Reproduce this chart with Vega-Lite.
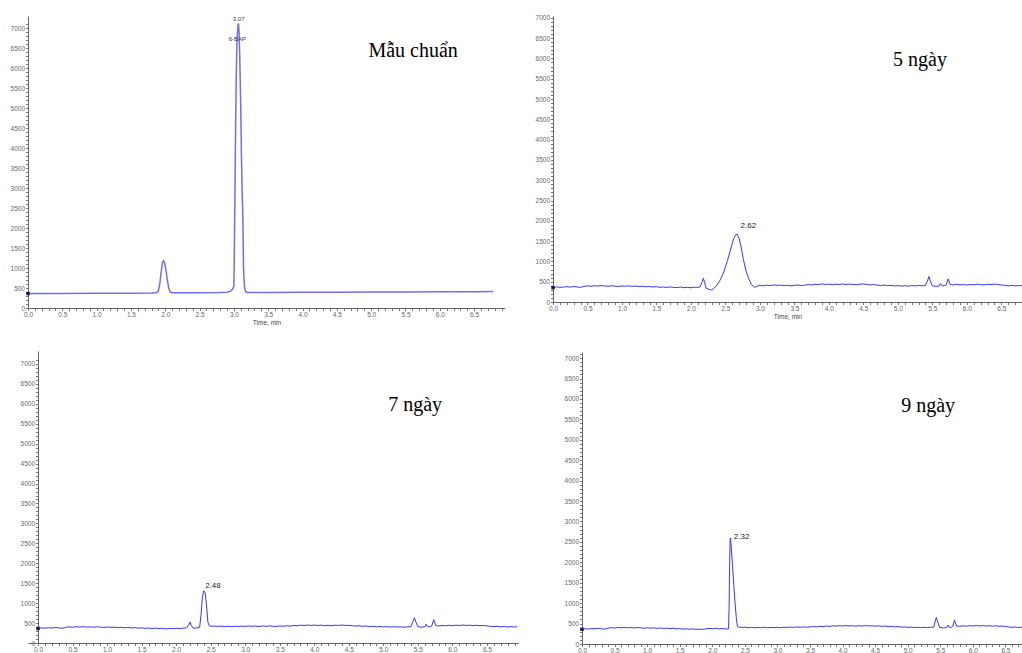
{
  "$schema": "https://vega.github.io/schema/vega-lite/v6.json",
  "background": "white",
  "padding": {"left": 10, "top": 14, "right": 0, "bottom": 0},
  "columns": 2,
  "align": "none",
  "bounds": "full",
  "spacing": {"row": 25, "column": 15},
  "config": {
    "view": {"stroke": null},
    "axis": {
      "grid": false,
      "tickCount": 500,
      "labelFont": "Liberation Sans",
      "labelFontSize": 6.5,
      "labelColor": "#666",
      "labelPadding": 1,
      "labelOverlap": false,
      "labelFlush": false,
      "domainColor": "#666",
      "tickColor": "#777",
      "tickSize": 2.5,
      "titleFont": "Liberation Sans",
      "titleFontSize": 6.5,
      "titleFontWeight": "normal",
      "titleColor": "#444",
      "titlePadding": 1
    }
  },
  "datasets": {
    "p1": [
      {"t":0,"s":362},{"t":0.5,"s":364},{"t":1.0,"s":367},{"t":1.5,"s":370},{"t":1.8,"s":373},{"t":1.87,"s":380},{"t":1.9,"s":430},{"t":1.92,"s":600},{"t":1.94,"s":900},{"t":1.96,"s":1150},{"t":1.975,"s":1180},{"t":1.99,"s":1120},{"t":2.01,"s":950},{"t":2.03,"s":700},{"t":2.05,"s":500},{"t":2.07,"s":410},{"t":2.1,"s":382},{"t":2.5,"s":382},{"t":2.8,"s":385},{"t":2.9,"s":395},{"t":2.95,"s":420},{"t":2.98,"s":470},{"t":3.0,"s":540},{"t":3.005,"s":1200},{"t":3.015,"s":2800},{"t":3.025,"s":4500},{"t":3.035,"s":5900},{"t":3.045,"s":6700},{"t":3.06,"s":7080},{"t":3.067,"s":7110},{"t":3.075,"s":6900},{"t":3.085,"s":6300},{"t":3.1,"s":5000},{"t":3.11,"s":3800},{"t":3.12,"s":2900},{"t":3.128,"s":2450},{"t":3.135,"s":1700},{"t":3.14,"s":1050},{"t":3.145,"s":800},{"t":3.155,"s":520},{"t":3.17,"s":410},{"t":3.2,"s":390},{"t":3.5,"s":390},{"t":4.0,"s":393},{"t":4.5,"s":396},{"t":5.0,"s":398},{"t":5.5,"s":401},{"t":6.0,"s":404},{"t":6.5,"s":408},{"t":6.78,"s":410}
    ],
    "p2": [
      {"t":0.00,"s":355},{"t":0.05,"s":372},{"t":0.10,"s":360},{"t":0.15,"s":368},{"t":0.20,"s":378},{"t":0.25,"s":365},{"t":0.30,"s":382},{"t":0.35,"s":370},{"t":0.40,"s":360},{"t":0.45,"s":385},{"t":0.50,"s":398},{"t":0.55,"s":388},{"t":0.60,"s":402},{"t":0.65,"s":392},{"t":0.70,"s":405},{"t":0.75,"s":395},{"t":0.80,"s":388},{"t":0.85,"s":400},{"t":0.90,"s":392},{"t":0.95,"s":380},{"t":1.00,"s":395},{"t":1.05,"s":388},{"t":1.10,"s":398},{"t":1.15,"s":385},{"t":1.20,"s":392},{"t":1.25,"s":380},{"t":1.30,"s":388},{"t":1.35,"s":375},{"t":1.40,"s":382},{"t":1.45,"s":368},{"t":1.50,"s":378},{"t":1.55,"s":362},{"t":1.60,"s":370},{"t":1.65,"s":358},{"t":1.70,"s":372},{"t":1.75,"s":360},{"t":1.80,"s":355},{"t":1.85,"s":368},{"t":1.90,"s":352},{"t":1.95,"s":362},{"t":2.00,"s":350},{"t":2.05,"s":365},{"t":2.10,"s":358},{"t":2.13,"s":370},{"t":2.16,"s":480},{"t":2.18,"s":585},{"t":2.20,"s":470},{"t":2.22,"s":340},{"t":2.25,"s":320},{"t":2.28,"s":305},{"t":2.30,"s":298},{"t":2.33,"s":330},{"t":2.38,"s":420},{"t":2.43,"s":560},{"t":2.48,"s":760},{"t":2.53,"s":1020},{"t":2.58,"s":1330},{"t":2.62,"s":1560},{"t":2.65,"s":1660},{"t":2.67,"s":1670},{"t":2.70,"s":1560},{"t":2.73,"s":1330},{"t":2.76,"s":1050},{"t":2.80,"s":760},{"t":2.84,"s":560},{"t":2.88,"s":430},{"t":2.92,"s":360},{"t":2.95,"s":380},{"t":3.00,"s":410},{"t":3.05,"s":398},{"t":3.10,"s":415},{"t":3.15,"s":405},{"t":3.20,"s":420},{"t":3.25,"s":410},{"t":3.30,"s":418},{"t":3.35,"s":402},{"t":3.40,"s":412},{"t":3.45,"s":398},{"t":3.50,"s":410},{"t":3.55,"s":420},{"t":3.60,"s":405},{"t":3.65,"s":415},{"t":3.70,"s":430},{"t":3.75,"s":418},{"t":3.80,"s":440},{"t":3.85,"s":428},{"t":3.90,"s":445},{"t":3.95,"s":432},{"t":4.00,"s":440},{"t":4.05,"s":425},{"t":4.10,"s":438},{"t":4.15,"s":430},{"t":4.20,"s":445},{"t":4.25,"s":428},{"t":4.30,"s":440},{"t":4.35,"s":432},{"t":4.40,"s":425},{"t":4.45,"s":438},{"t":4.50,"s":445},{"t":4.55,"s":430},{"t":4.60,"s":420},{"t":4.65,"s":432},{"t":4.70,"s":415},{"t":4.75,"s":405},{"t":4.80,"s":418},{"t":4.85,"s":400},{"t":4.90,"s":412},{"t":4.95,"s":395},{"t":5.00,"s":405},{"t":5.05,"s":392},{"t":5.10,"s":402},{"t":5.15,"s":390},{"t":5.20,"s":405},{"t":5.25,"s":395},{"t":5.30,"s":408},{"t":5.35,"s":398},{"t":5.40,"s":410},{"t":5.43,"s":520},{"t":5.45,"s":630},{"t":5.47,"s":520},{"t":5.50,"s":400},{"t":5.55,"s":385},{"t":5.60,"s":395},{"t":5.62,"s":455},{"t":5.64,"s":400},{"t":5.67,"s":398},{"t":5.70,"s":420},{"t":5.73,"s":570},{"t":5.76,"s":430},{"t":5.80,"s":420},{"t":5.85,"s":435},{"t":5.90,"s":422},{"t":5.95,"s":430},{"t":6.00,"s":418},{"t":6.05,"s":432},{"t":6.10,"s":425},{"t":6.15,"s":438},{"t":6.20,"s":428},{"t":6.25,"s":422},{"t":6.30,"s":435},{"t":6.35,"s":428},{"t":6.40,"s":440},{"t":6.45,"s":430},{"t":6.50,"s":420},{"t":6.55,"s":410},{"t":6.60,"s":398},{"t":6.65,"s":408},{"t":6.70,"s":395},{"t":6.75,"s":405},{"t":6.80,"s":400}
    ],
    "p3": [
      {"t":0.00,"s":365},{"t":0.05,"s":380},{"t":0.10,"s":372},{"t":0.15,"s":385},{"t":0.20,"s":375},{"t":0.25,"s":390},{"t":0.30,"s":378},{"t":0.35,"s":370},{"t":0.40,"s":392},{"t":0.45,"s":405},{"t":0.50,"s":395},{"t":0.55,"s":410},{"t":0.60,"s":400},{"t":0.65,"s":412},{"t":0.70,"s":398},{"t":0.75,"s":405},{"t":0.80,"s":395},{"t":0.85,"s":408},{"t":0.90,"s":398},{"t":0.95,"s":388},{"t":1.00,"s":402},{"t":1.05,"s":392},{"t":1.10,"s":398},{"t":1.15,"s":385},{"t":1.20,"s":395},{"t":1.25,"s":382},{"t":1.30,"s":390},{"t":1.35,"s":378},{"t":1.40,"s":385},{"t":1.45,"s":372},{"t":1.50,"s":380},{"t":1.55,"s":368},{"t":1.60,"s":375},{"t":1.65,"s":362},{"t":1.70,"s":372},{"t":1.75,"s":360},{"t":1.80,"s":368},{"t":1.85,"s":355},{"t":1.90,"s":365},{"t":1.95,"s":358},{"t":2.00,"s":370},{"t":2.05,"s":362},{"t":2.10,"s":372},{"t":2.15,"s":378},{"t":2.18,"s":450},{"t":2.20,"s":525},{"t":2.22,"s":440},{"t":2.25,"s":370},{"t":2.30,"s":378},{"t":2.34,"s":390},{"t":2.36,"s":700},{"t":2.38,"s":1150},{"t":2.40,"s":1310},{"t":2.42,"s":1260},{"t":2.44,"s":950},{"t":2.46,"s":520},{"t":2.48,"s":430},{"t":2.52,"s":418},{"t":2.55,"s":428},{"t":2.60,"s":415},{"t":2.65,"s":425},{"t":2.70,"s":412},{"t":2.75,"s":420},{"t":2.80,"s":410},{"t":2.85,"s":422},{"t":2.90,"s":412},{"t":2.95,"s":425},{"t":3.00,"s":415},{"t":3.05,"s":428},{"t":3.10,"s":418},{"t":3.15,"s":425},{"t":3.20,"s":412},{"t":3.25,"s":428},{"t":3.30,"s":418},{"t":3.35,"s":430},{"t":3.40,"s":420},{"t":3.45,"s":415},{"t":3.50,"s":428},{"t":3.55,"s":420},{"t":3.60,"s":432},{"t":3.65,"s":422},{"t":3.70,"s":440},{"t":3.75,"s":430},{"t":3.80,"s":448},{"t":3.85,"s":438},{"t":3.90,"s":452},{"t":3.95,"s":440},{"t":4.00,"s":450},{"t":4.05,"s":438},{"t":4.10,"s":448},{"t":4.15,"s":435},{"t":4.20,"s":445},{"t":4.25,"s":432},{"t":4.30,"s":448},{"t":4.35,"s":440},{"t":4.40,"s":452},{"t":4.45,"s":440},{"t":4.50,"s":445},{"t":4.55,"s":432},{"t":4.60,"s":425},{"t":4.65,"s":435},{"t":4.70,"s":418},{"t":4.75,"s":428},{"t":4.80,"s":410},{"t":4.85,"s":420},{"t":4.90,"s":405},{"t":4.95,"s":415},{"t":5.00,"s":402},{"t":5.05,"s":412},{"t":5.10,"s":400},{"t":5.15,"s":410},{"t":5.20,"s":398},{"t":5.25,"s":408},{"t":5.30,"s":395},{"t":5.35,"s":405},{"t":5.40,"s":410},{"t":5.43,"s":540},{"t":5.45,"s":635},{"t":5.47,"s":530},{"t":5.50,"s":410},{"t":5.55,"s":395},{"t":5.60,"s":405},{"t":5.62,"s":470},{"t":5.64,"s":410},{"t":5.67,"s":405},{"t":5.70,"s":425},{"t":5.73,"s":585},{"t":5.76,"s":440},{"t":5.80,"s":428},{"t":5.85,"s":440},{"t":5.90,"s":430},{"t":5.95,"s":445},{"t":6.00,"s":435},{"t":6.05,"s":448},{"t":6.10,"s":438},{"t":6.15,"s":450},{"t":6.20,"s":440},{"t":6.25,"s":448},{"t":6.30,"s":435},{"t":6.35,"s":445},{"t":6.40,"s":432},{"t":6.45,"s":440},{"t":6.50,"s":428},{"t":6.55,"s":418},{"t":6.60,"s":410},{"t":6.65,"s":420},{"t":6.70,"s":405},{"t":6.75,"s":415},{"t":6.80,"s":402},{"t":6.85,"s":412},{"t":6.90,"s":400},{"t":6.94,"s":410}
    ],
    "p4": [
      {"t":0.00,"s":360},{"t":0.05,"s":375},{"t":0.10,"s":365},{"t":0.15,"s":380},{"t":0.20,"s":370},{"t":0.25,"s":385},{"t":0.30,"s":372},{"t":0.35,"s":362},{"t":0.40,"s":388},{"t":0.45,"s":400},{"t":0.50,"s":390},{"t":0.55,"s":405},{"t":0.60,"s":395},{"t":0.65,"s":408},{"t":0.70,"s":396},{"t":0.75,"s":404},{"t":0.80,"s":392},{"t":0.85,"s":405},{"t":0.90,"s":395},{"t":0.95,"s":386},{"t":1.00,"s":398},{"t":1.05,"s":388},{"t":1.10,"s":396},{"t":1.15,"s":384},{"t":1.20,"s":392},{"t":1.25,"s":380},{"t":1.30,"s":388},{"t":1.35,"s":376},{"t":1.40,"s":384},{"t":1.45,"s":370},{"t":1.50,"s":378},{"t":1.55,"s":364},{"t":1.60,"s":372},{"t":1.65,"s":360},{"t":1.70,"s":370},{"t":1.75,"s":358},{"t":1.80,"s":366},{"t":1.85,"s":356},{"t":1.90,"s":372},{"t":1.95,"s":380},{"t":2.00,"s":374},{"t":2.05,"s":385},{"t":2.10,"s":372},{"t":2.15,"s":380},{"t":2.20,"s":366},{"t":2.25,"s":372},{"t":2.258,"s":900},{"t":2.266,"s":1900},{"t":2.274,"s":2550},{"t":2.28,"s":2600},{"t":2.29,"s":2400},{"t":2.31,"s":1950},{"t":2.33,"s":1450},{"t":2.35,"s":1000},{"t":2.37,"s":620},{"t":2.385,"s":440},{"t":2.40,"s":415},{"t":2.45,"s":402},{"t":2.50,"s":412},{"t":2.55,"s":398},{"t":2.60,"s":408},{"t":2.65,"s":395},{"t":2.70,"s":405},{"t":2.75,"s":398},{"t":2.80,"s":410},{"t":2.85,"s":396},{"t":2.90,"s":406},{"t":2.95,"s":398},{"t":3.00,"s":410},{"t":3.05,"s":400},{"t":3.10,"s":412},{"t":3.15,"s":404},{"t":3.20,"s":415},{"t":3.25,"s":405},{"t":3.30,"s":418},{"t":3.35,"s":408},{"t":3.40,"s":420},{"t":3.45,"s":410},{"t":3.50,"s":418},{"t":3.55,"s":428},{"t":3.60,"s":418},{"t":3.65,"s":432},{"t":3.70,"s":425},{"t":3.75,"s":440},{"t":3.80,"s":430},{"t":3.85,"s":448},{"t":3.90,"s":438},{"t":3.95,"s":450},{"t":4.00,"s":440},{"t":4.05,"s":452},{"t":4.10,"s":442},{"t":4.15,"s":448},{"t":4.20,"s":436},{"t":4.25,"s":450},{"t":4.30,"s":440},{"t":4.35,"s":452},{"t":4.40,"s":442},{"t":4.45,"s":448},{"t":4.50,"s":436},{"t":4.55,"s":446},{"t":4.60,"s":432},{"t":4.65,"s":440},{"t":4.70,"s":425},{"t":4.75,"s":432},{"t":4.80,"s":418},{"t":4.85,"s":426},{"t":4.90,"s":412},{"t":4.95,"s":420},{"t":5.00,"s":406},{"t":5.05,"s":415},{"t":5.10,"s":402},{"t":5.15,"s":412},{"t":5.20,"s":400},{"t":5.25,"s":410},{"t":5.30,"s":398},{"t":5.35,"s":408},{"t":5.40,"s":412},{"t":5.42,"s":540},{"t":5.44,"s":648},{"t":5.46,"s":540},{"t":5.49,"s":410},{"t":5.55,"s":392},{"t":5.60,"s":402},{"t":5.62,"s":465},{"t":5.64,"s":405},{"t":5.67,"s":410},{"t":5.69,"s":430},{"t":5.72,"s":582},{"t":5.75,"s":440},{"t":5.80,"s":432},{"t":5.85,"s":445},{"t":5.90,"s":435},{"t":5.95,"s":450},{"t":6.00,"s":440},{"t":6.05,"s":452},{"t":6.10,"s":442},{"t":6.15,"s":450},{"t":6.20,"s":440},{"t":6.25,"s":448},{"t":6.30,"s":436},{"t":6.35,"s":446},{"t":6.40,"s":432},{"t":6.45,"s":440},{"t":6.50,"s":426},{"t":6.55,"s":418},{"t":6.60,"s":408},{"t":6.65,"s":416},{"t":6.70,"s":402},{"t":6.75,"s":412},{"t":6.77,"s":405}
    ],
    "notes": [
      {"panel":1,"t":4.96,"s":6275,"label":"Mẫu chuẩn"},
      {"panel":2,"t":4.93,"s":5817,"label":"5 ngày"},
      {"panel":3,"t":5.07,"s":5820,"label":"7 ngày"},
      {"panel":4,"t":4.90,"s":5678,"label":"9 ngày"}
    ],
    "peaks": [
      {"panel":2,"t":2.72,"s":1824,"label":"2.62"},
      {"panel":3,"t":2.42,"s":1380,"label":"2.48"},
      {"panel":4,"t":2.33,"s":2570,"label":"2.32"}
    ],
    "peaks1": [
      {"t":3.07,"s":7175,"label":"3.07","align":"center"},
      {"t":3.05,"s":6675,"label":"6-BAP","align":"right"}
    ]
  },
  "concat": [
    {
      "width": 477,
      "height": 292,
      "layer": [
        {
          "data": {"name": "p1"},
          "mark": {"type": "line", "color": "#6f6ff0", "strokeWidth": 1.5},
          "encoding": {
            "x": {"field": "t", "type": "quantitative", "scale": {"domain": [0, 6.95], "nice": false, "zero": false},
              "axis": {"title": "Time, min", "values": [0,0.1,0.2,0.3,0.4,0.5,0.6,0.7,0.8,0.9,1,1.1,1.2,1.3,1.4,1.5,1.6,1.7,1.8,1.9,2,2.1,2.2,2.3,2.4,2.5,2.6,2.7,2.8,2.9,3,3.1,3.2,3.3,3.4,3.5,3.6,3.7,3.8,3.9,4,4.1,4.2,4.3,4.4,4.5,4.6,4.7,4.8,4.9,5,5.1,5.2,5.3,5.4,5.5,5.6,5.7,5.8,5.9,6,6.1,6.2,6.3,6.4,6.5,6.6,6.7,6.8,6.9],
                "labelExpr": "abs(datum.value*2 - round(datum.value*2)) < 0.001 ? format(datum.value, '.1f') : ''"}},
            "y": {"field": "s", "type": "quantitative", "scale": {"domain": [0, 7300], "nice": false},
              "axis": {"title": null, "values": [0,100,200,300,400,500,600,700,800,900,1000,1100,1200,1300,1400,1500,1600,1700,1800,1900,2000,2100,2200,2300,2400,2500,2600,2700,2800,2900,3000,3100,3200,3300,3400,3500,3600,3700,3800,3900,4000,4100,4200,4300,4400,4500,4600,4700,4800,4900,5000,5100,5200,5300,5400,5500,5600,5700,5800,5900,6000,6100,6200,6300,6400,6500,6600,6700,6800,6900,7000,7100],
                "labelExpr": "datum.value % 500 === 0 ? format(datum.value, 'd') : ''"}}
          }
        },
        {
          "data": {"name": "p1"},
          "transform": [{"filter": "datum.t == 0"}],
          "mark": {"type": "square", "size": 12, "color": "#1a1a4a", "opacity": 1},
          "encoding": {"x": {"field": "t", "type": "quantitative"}, "y": {"field": "s", "type": "quantitative"}}
        },
        {
          "mark": {"type": "rule", "color": "#555", "strokeWidth": 1},
          "encoding": {"x": {"datum": -0.29}, "x2": {"datum": 6.95}, "y": {"datum": -400}}
        },
        {
          "data": {"name": "notes"},
          "transform": [{"filter": "datum.panel == 1"}],
          "mark": {"type": "text", "font": "Liberation Serif", "fontSize": 20, "align": "left", "baseline": "alphabetic", "color": "#000"},
          "encoding": {"x": {"field": "t", "type": "quantitative"}, "y": {"field": "s", "type": "quantitative"}, "text": {"field": "label"}}
        },
        {
          "data": {"name": "peaks1"},
          "mark": {"type": "text", "font": "Liberation Sans", "fontSize": 6, "baseline": "alphabetic", "color": "#333"},
          "encoding": {"x": {"field": "t", "type": "quantitative"}, "y": {"field": "s", "type": "quantitative"}, "text": {"field": "label"}, "align": {"field": "align", "type": "nominal", "scale": null}}
        }
      ]
    },
    {
      "width": 469,
      "height": 286,
      "layer": [
        {
          "data": {"name": "p2"},
          "mark": {"type": "line", "color": "#3535ff", "strokeWidth": 1},
          "encoding": {
            "x": {"field": "t", "type": "quantitative", "scale": {"domain": [0, 6.8], "nice": false, "zero": false},
              "axis": {"title": "Time, min", "values": [0,0.1,0.2,0.3,0.4,0.5,0.6,0.7,0.8,0.9,1,1.1,1.2,1.3,1.4,1.5,1.6,1.7,1.8,1.9,2,2.1,2.2,2.3,2.4,2.5,2.6,2.7,2.8,2.9,3,3.1,3.2,3.3,3.4,3.5,3.6,3.7,3.8,3.9,4,4.1,4.2,4.3,4.4,4.5,4.6,4.7,4.8,4.9,5,5.1,5.2,5.3,5.4,5.5,5.6,5.7,5.8,5.9,6,6.1,6.2,6.3,6.4,6.5,6.6,6.7,6.8],
                "labelExpr": "abs(datum.value*2 - round(datum.value*2)) < 0.001 ? format(datum.value, '.1f') : ''"}},
            "y": {"field": "s", "type": "quantitative", "scale": {"domain": [0, 7045], "nice": false},
              "axis": {"title": null, "values": [0,100,200,300,400,500,600,700,800,900,1000,1100,1200,1300,1400,1500,1600,1700,1800,1900,2000,2100,2200,2300,2400,2500,2600,2700,2800,2900,3000,3100,3200,3300,3400,3500,3600,3700,3800,3900,4000,4100,4200,4300,4400,4500,4600,4700,4800,4900,5000,5100,5200,5300,5400,5500,5600,5700,5800,5900,6000,6100,6200,6300,6400,6500,6600,6700,6800,6900,7000],
                "labelExpr": "datum.value % 500 === 0 ? format(datum.value, 'd') : ''"}}
          }
        },
        {
          "data": {"name": "p2"},
          "transform": [{"filter": "datum.t == 0"}],
          "mark": {"type": "square", "size": 12, "color": "#1a1a4a", "opacity": 1},
          "encoding": {"x": {"field": "t", "type": "quantitative"}, "y": {"field": "s", "type": "quantitative"}}
        },
        {
          "data": {"name": "notes"},
          "transform": [{"filter": "datum.panel == 2"}],
          "mark": {"type": "text", "font": "Liberation Serif", "fontSize": 20, "align": "left", "baseline": "alphabetic", "color": "#000"},
          "encoding": {"x": {"field": "t", "type": "quantitative"}, "y": {"field": "s", "type": "quantitative"}, "text": {"field": "label"}}
        },
        {
          "data": {"name": "peaks"},
          "transform": [{"filter": "datum.panel == 2"}],
          "mark": {"type": "text", "font": "Liberation Sans", "fontSize": 8, "align": "left", "baseline": "alphabetic", "color": "#222"},
          "encoding": {"x": {"field": "t", "type": "quantitative"}, "y": {"field": "s", "type": "quantitative"}, "text": {"field": "label"}}
        }
      ]
    },
    {
      "width": 490,
      "height": 292,
      "layer": [
        {
          "data": {"name": "p3"},
          "mark": {"type": "line", "color": "#3535ff", "strokeWidth": 1},
          "encoding": {
            "x": {"field": "t", "type": "quantitative", "scale": {"domain": [-0.145, 6.95], "nice": false, "zero": false},
              "axis": {"title": "Time, min", "values": [0,0.1,0.2,0.3,0.4,0.5,0.6,0.7,0.8,0.9,1,1.1,1.2,1.3,1.4,1.5,1.6,1.7,1.8,1.9,2,2.1,2.2,2.3,2.4,2.5,2.6,2.7,2.8,2.9,3,3.1,3.2,3.3,3.4,3.5,3.6,3.7,3.8,3.9,4,4.1,4.2,4.3,4.4,4.5,4.6,4.7,4.8,4.9,5,5.1,5.2,5.3,5.4,5.5,5.6,5.7,5.8,5.9,6,6.1,6.2,6.3,6.4,6.5,6.6,6.7,6.8,6.9],
                "labelExpr": "abs(datum.value*2 - round(datum.value*2)) < 0.001 ? format(datum.value, '.1f') : ''"}},
            "y": {"field": "s", "type": "quantitative", "scale": {"domain": [0, 7325], "nice": false},
              "axis": {"title": null, "offset": -10, "values": [0,100,200,300,400,500,600,700,800,900,1000,1100,1200,1300,1400,1500,1600,1700,1800,1900,2000,2100,2200,2300,2400,2500,2600,2700,2800,2900,3000,3100,3200,3300,3400,3500,3600,3700,3800,3900,4000,4100,4200,4300,4400,4500,4600,4700,4800,4900,5000,5100,5200,5300,5400,5500,5600,5700,5800,5900,6000,6100,6200,6300,6400,6500,6600,6700,6800,6900,7000,7100],
                "labelExpr": "datum.value % 500 === 0 ? format(datum.value, 'd') : ''"}}
          }
        },
        {
          "data": {"name": "p3"},
          "transform": [{"filter": "datum.t == 0"}],
          "mark": {"type": "square", "size": 12, "color": "#1a1a4a", "opacity": 1},
          "encoding": {"x": {"field": "t", "type": "quantitative"}, "y": {"field": "s", "type": "quantitative"}}
        },
        {
          "data": {"name": "notes"},
          "transform": [{"filter": "datum.panel == 3"}],
          "mark": {"type": "text", "font": "Liberation Serif", "fontSize": 20, "align": "left", "baseline": "alphabetic", "color": "#000"},
          "encoding": {"x": {"field": "t", "type": "quantitative"}, "y": {"field": "s", "type": "quantitative"}, "text": {"field": "label"}}
        },
        {
          "data": {"name": "peaks"},
          "transform": [{"filter": "datum.panel == 3"}],
          "mark": {"type": "text", "font": "Liberation Sans", "fontSize": 8, "align": "left", "baseline": "alphabetic", "color": "#222"},
          "encoding": {"x": {"field": "t", "type": "quantitative"}, "y": {"field": "s", "type": "quantitative"}, "text": {"field": "label"}}
        }
      ]
    },
    {
      "width": 441,
      "height": 292,
      "layer": [
        {
          "data": {"name": "p4"},
          "mark": {"type": "line", "color": "#3535ff", "strokeWidth": 1},
          "encoding": {
            "x": {"field": "t", "type": "quantitative", "scale": {"domain": [0, 6.77], "nice": false, "zero": false},
              "axis": {"title": "Time, min", "values": [0,0.1,0.2,0.3,0.4,0.5,0.6,0.7,0.8,0.9,1,1.1,1.2,1.3,1.4,1.5,1.6,1.7,1.8,1.9,2,2.1,2.2,2.3,2.4,2.5,2.6,2.7,2.8,2.9,3,3.1,3.2,3.3,3.4,3.5,3.6,3.7,3.8,3.9,4,4.1,4.2,4.3,4.4,4.5,4.6,4.7,4.8,4.9,5,5.1,5.2,5.3,5.4,5.5,5.6,5.7,5.8,5.9,6,6.1,6.2,6.3,6.4,6.5,6.6,6.7],
                "labelExpr": "abs(datum.value*2 - round(datum.value*2)) < 0.001 ? format(datum.value, '.1f') : ''"}},
            "y": {"field": "s", "type": "quantitative", "scale": {"domain": [0, 7150], "nice": false},
              "axis": {"title": "Signal", "titleColor": "#ffffff", "titleFontSize": 6, "titlePadding": 23, "values": [0,100,200,300,400,500,600,700,800,900,1000,1100,1200,1300,1400,1500,1600,1700,1800,1900,2000,2100,2200,2300,2400,2500,2600,2700,2800,2900,3000,3100,3200,3300,3400,3500,3600,3700,3800,3900,4000,4100,4200,4300,4400,4500,4600,4700,4800,4900,5000,5100,5200,5300,5400,5500,5600,5700,5800,5900,6000,6100,6200,6300,6400,6500,6600,6700,6800,6900,7000,7100],
                "labelExpr": "datum.value % 500 === 0 ? format(datum.value, 'd') : ''"}}
          }
        },
        {
          "data": {"name": "p4"},
          "transform": [{"filter": "datum.t == 0"}],
          "mark": {"type": "square", "size": 12, "color": "#1a1a4a", "opacity": 1},
          "encoding": {"x": {"field": "t", "type": "quantitative"}, "y": {"field": "s", "type": "quantitative"}}
        },
        {
          "data": {"name": "notes"},
          "transform": [{"filter": "datum.panel == 4"}],
          "mark": {"type": "text", "font": "Liberation Serif", "fontSize": 20, "align": "left", "baseline": "alphabetic", "color": "#000"},
          "encoding": {"x": {"field": "t", "type": "quantitative"}, "y": {"field": "s", "type": "quantitative"}, "text": {"field": "label"}}
        },
        {
          "data": {"name": "peaks"},
          "transform": [{"filter": "datum.panel == 4"}],
          "mark": {"type": "text", "font": "Liberation Sans", "fontSize": 8, "align": "left", "baseline": "alphabetic", "color": "#222"},
          "encoding": {"x": {"field": "t", "type": "quantitative"}, "y": {"field": "s", "type": "quantitative"}, "text": {"field": "label"}}
        }
      ]
    }
  ]
}
